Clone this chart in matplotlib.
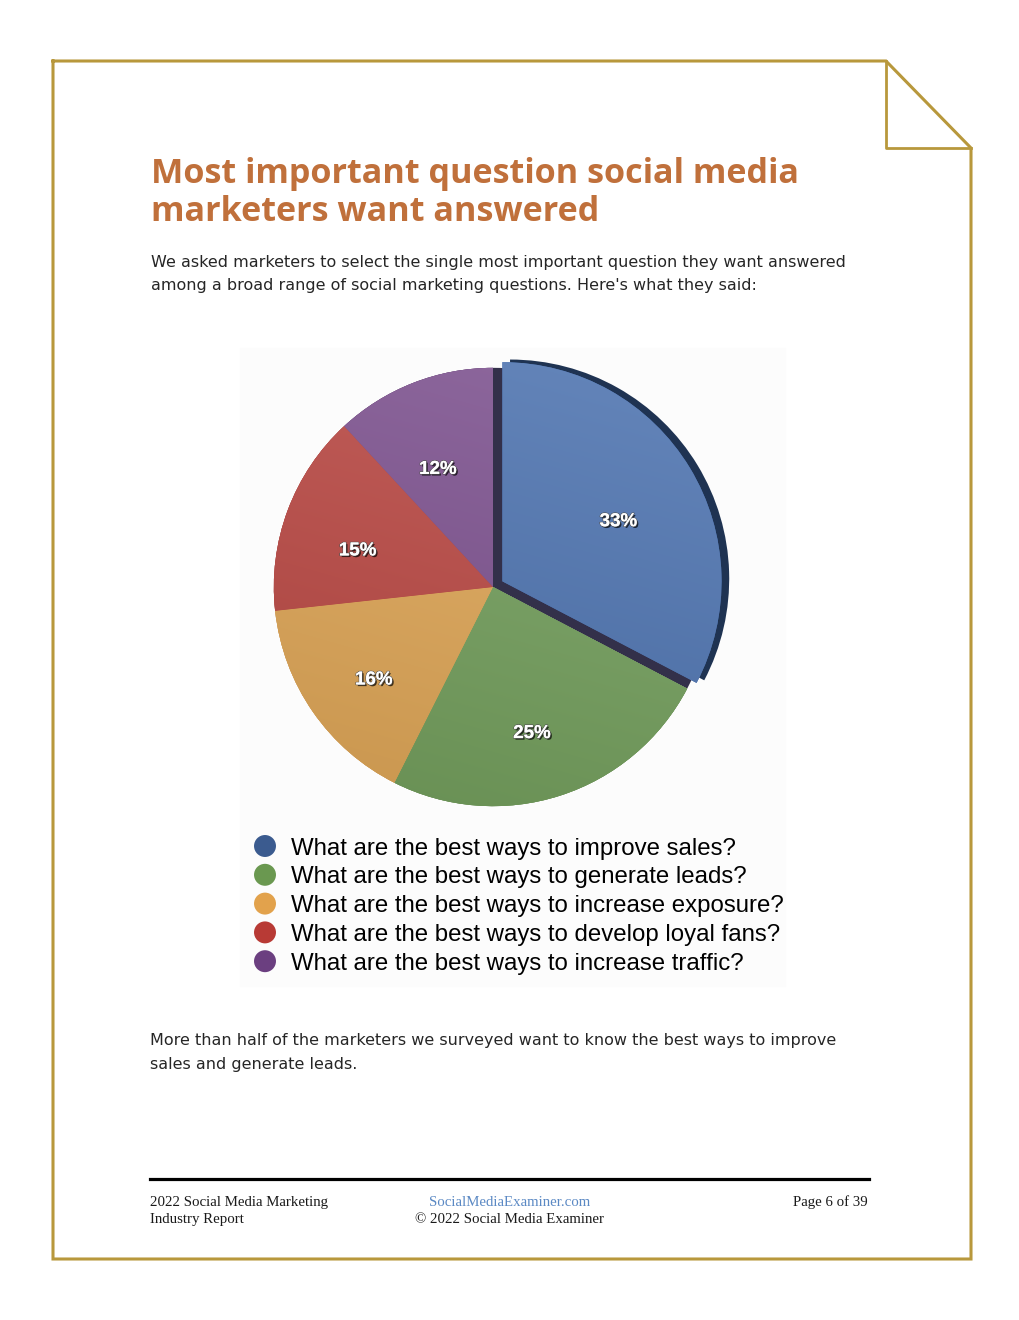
"""
Most important question social media marketers want answered - pie chart page
"""

import numpy as np
import matplotlib
matplotlib.use("Agg")
import matplotlib.pyplot as plt
import matplotlib.patheffects as pe
import matplotlib.transforms as mtransforms
from matplotlib.colors import to_rgb

# datos
questions = [
    "What are the best ways to improve sales?",
    "What are the best ways to generate leads?",
    "What are the best ways to increase exposure?",
    "What are the best ways to develop loyal fans?",
    "What are the best ways to increase traffic?",
]
shares = [33, 25, 16, 15, 12]
slice_colors = ["#4a72b2", "#72a05a", "#e4a854", "#bd4540", "#7d4f90"]
dot_colors = ["#3b5b8f", "#6a9850", "#e2a24c", "#b83a35", "#6b3f80"]

title_lines = ["Most important question social media", "marketers want answered"]
intro_lines = [
    "We asked marketers to select the single most important question they want answered",
    "among a broad range of social marketing questions. Here's what they said:",
]
outro_lines = [
    "More than half of the marketers we surveyed want to know the best ways to improve",
    "sales and generate leads.",
]

W, H = 1020, 1320
GOLD = "#b8983c"

fig = plt.figure(figsize=(W / 100, H / 100), dpi=100)
fig.patch.set_facecolor("white")
page = fig.add_axes([0, 0, 1, 1])
page.set_xlim(0, W)
page.set_ylim(H, 0)
page.axis("off")
renderer = fig.canvas.get_renderer()


def fit_size(txt, target, **kw):
    # ajusta el tamaño de fuente para que el texto ocupe "target" píxeles
    t = page.text(0, 0, txt, fontsize=10, **kw)
    w = t.get_window_extent(renderer).width
    t.remove()
    return 10 * target / w


# marco de página con esquina doblada
page.plot([53, 886, 971, 971, 53, 53], [61, 61, 148, 1259, 1259, 61],
          color=GOLD, lw=2.2, solid_joinstyle="miter")
page.plot([886, 886, 971], [61, 148, 148], color=GOLD, lw=2.0)

# título
title_kw = dict(family="Open Sans", fontweight="bold", color="#c0703b")
fs = fit_size(title_lines[0], 649, **title_kw)
for i, line in enumerate(title_lines):
    page.text(151, 183 + 38 * i, line, fontsize=fs, va="baseline", **title_kw)

body_kw = dict(family="DejaVu Sans", color="#262626")
fs_body = fit_size(intro_lines[0], 691, **body_kw)
for i, line in enumerate(intro_lines):
    page.text(151, 267 + 23 * i, line, fontsize=fs_body, va="baseline", **body_kw)
for i, line in enumerate(outro_lines):
    page.text(150, 1045 + 24 * i, line, fontsize=fs_body, va="baseline", **body_kw)

# fondo tenue de la imagen del gráfico
page.add_patch(plt.Rectangle((240, 348), 545, 638, color="#fcfcfc", zorder=0))

# leyenda
leg_kw = dict(family="Liberation Sans", color="black")
fs_leg = fit_size(questions[0], 446, **leg_kw)
for i, (q, c) in enumerate(zip(questions, dot_colors)):
    y = 846 + 28.8 * i
    page.scatter([265], [y], s=250, color=c, zorder=3, edgecolors="none")
    page.text(291, y, q, fontsize=fs_leg, va="center_baseline", **leg_kw)

# pie de página
page.plot([150, 869], [1179, 1179], color="black", lw=2.3)
foot_kw = dict(family="Liberation Serif", color="#1a1a1a")
fs_foot = fit_size("2022 Social Media Marketing", 179, **foot_kw)
page.text(150, 1206, "2022 Social Media Marketing", fontsize=fs_foot, va="baseline", **foot_kw)
page.text(150, 1223, "Industry Report", fontsize=fs_foot, va="baseline", **foot_kw)
page.text(510, 1206, "SocialMediaExaminer.com", fontsize=fs_foot, va="baseline",
          ha="center", family="Liberation Serif", color="#5b89c4")
page.text(510, 1223, "\u00a9 2022 Social Media Examiner", fontsize=fs_foot, va="baseline",
          ha="center", **foot_kw)
page.text(868, 1206, "Page 6 of 39", fontsize=fs_foot, va="baseline", ha="right", **foot_kw)

# gráfico de tarta
cx, cy, half = 493, 587, 263
pie_ax = fig.add_axes([(cx - half) / W, (H - cy - half) / H, 2 * half / W, 2 * half / H])

explode = [0.05, 0, 0, 0, 0]

# capa oscura base (lo que se ve en el hueco del sector desplazado)
base_cols = ["#33304a", "#4c6a3c", "#a07038", "#7d2c2a", "#3a2540"]
pie_ax.pie(shares, colors=base_cols, startangle=90, counterclock=False,
           wedgeprops=dict(linewidth=0, zorder=1))

# lateral del sector azul
side, _ = pie_ax.pie(shares[:1] + [sum(shares[1:])], colors=["#1f3352", "none"],
                     startangle=90, counterclock=False,
                     explode=[0.05, 0], center=(0.035, 0.012),
                     wedgeprops=dict(linewidth=0, zorder=2))

vals = iter(shares)
wedges, _, pct = pie_ax.pie(
    shares, colors=slice_colors, startangle=90, counterclock=False,
    explode=explode, autopct=lambda p: f"{next(vals)}%", pctdistance=0.64,
    wedgeprops=dict(linewidth=0, zorder=3),
    textprops=dict(color="white", fontweight="bold", fontsize=13.5,
                   family="Liberation Sans", zorder=6),
)

# degradado sobre cada sector
yy, xx = np.mgrid[-1.2:1.2:300j, -1.2:1.2:300j]
shade = np.clip(0.5 + 0.28 * yy + 0.08 * xx, 0, 1)
for w, c in zip(wedges, slice_colors):
    rgb = np.array(to_rgb(c))
    light = rgb + (1 - rgb) * 0.18
    dark = rgb * 0.86
    img = dark[None, None, :] * (1 - shade[..., None]) + light[None, None, :] * shade[..., None]
    im = pie_ax.imshow(img, extent=[-1.2, 1.2, -1.2, 1.2], origin="lower",
                       zorder=4, interpolation="bilinear")
    im.set_clip_path(w)

# etiquetas algo más abajo, como en el original en perspectiva
shift = mtransforms.ScaledTranslation(-4 / 100, -13 / 100, fig.dpi_scale_trans)
for t in pct:
    t.set_transform(t.get_transform() + shift)
    t.set_path_effects([pe.SimplePatchShadow(offset=(1.2, -1.2), shadow_rgbFace="black", alpha=0.7),
                        pe.withStroke(linewidth=1.0, foreground="#555555"),
                        pe.Normal()])

# pie() fija sus propios límites; se ponen después
pie_ax.set_xlim(-1.2, 1.2)
pie_ax.set_ylim(-1.2, 1.2)
pie_ax.set_aspect("equal")
pie_ax.axis("off")

fig.savefig("out.png", dpi=100, facecolor="white")
